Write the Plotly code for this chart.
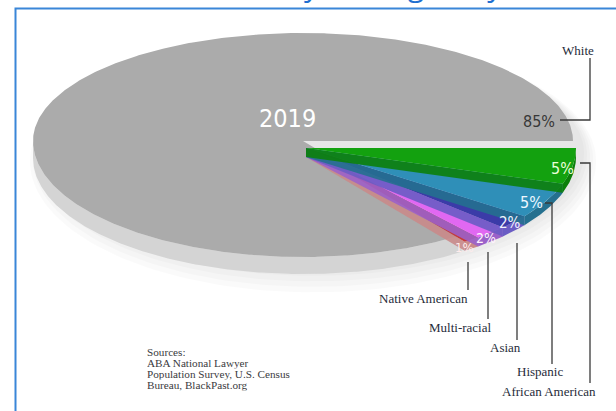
import math
import plotly.graph_objects as go

# ---------------- data ----------------
categories = ["African American", "Hispanic", "Asian", "Multi-racial", "Native American", "White"]
values = [5, 5, 2, 2, 1, 85]
pct_labels = ["5%", "5%", "2%", "2%", "1%", "85%"]
year_label = "2019"
source_lines = ["Sources:", "ABA National Lawyer", "Population Survey, U.S. Census", "Bureau, BlackPast.org"]
title_text = "Diversity among Lawyers"

# ---------------- style ----------------
top_colors = ["#13a10f", "#2f8fb8", "#3b3ba8", "#e168f2", "#c53b3b", "#ababab"]
side_colors = ["#0c7f0a", "#25708f", "#6a5cc4", "#9b62c9", "#c98a8a", "#d4d4d4"]
W, H = 616, 411
cx, cy = 303, 141
A, BT, BB = 270, 108, 116
DEPTH = 17
CDEPTH = 9
EXPLODE = (3, 7)
NARROW = "DejaVu Sans Condensed, Liberation Sans Narrow, Arial Narrow, Roboto, sans-serif"
SERIF = "Liberation Serif, DejaVu Serif, serif"


def pt(tdeg, dy=0.0, off=(0, 0)):
    t = math.radians(tdeg)
    s = math.sin(t)
    b = BT if s < 0 else BB
    return cx + A * math.cos(t) + off[0], cy + b * s + dy + off[1]


def arc(t0, t1, dy=0.0, off=(0, 0)):
    n = max(2, int(abs(t1 - t0) * 2) + 1)
    return [pt(t0 + (t1 - t0) * i / (n - 1), dy, off) for i in range(n)]


fig = go.Figure()


def poly(points, color, opacity=1.0, lw=0.0, lc=None):
    xs = [p[0] for p in points] + [points[0][0]]
    ys = [p[1] for p in points] + [points[0][1]]
    fig.add_trace(go.Scatter(x=xs, y=ys, mode="lines", fill="toself",
                             fillcolor=color, opacity=opacity,
                             line=dict(width=lw, color=lc or color),
                             hoverinfo="skip", showlegend=False))


# soft shadow under the front of the pie
for k in range(5):
    grow = 2 + k * 5
    pts = []
    for i in range(181):
        t = math.radians(i * 2)
        s = math.sin(t)
        b = (BT if s < 0 else BB) + grow * 0.7
        pts.append((cx + 10 + (A + grow * 0.6) * math.cos(t), cy + 12 + k * 2 + b * s))
    poly(pts, "rgba(0,0,0,1)", opacity=0.018)

# angular extents from the values, starting at 3 o'clock, clockwise on screen
total = sum(values)
starts, ends = [], []
acc = 0.0
for v in values:
    starts.append(acc / total * 360.0)
    acc += v
    ends.append(acc / total * 360.0)

# gray (White) slice: side wall then top
gi = len(values) - 1
g0, g1 = starts[gi], ends[gi]
wall_end = min(g1, 180.0)
wall = arc(g0, wall_end) + arc(wall_end, g0, dy=DEPTH)
poly(wall, side_colors[gi])
poly([(cx, cy)] + arc(g0, g1), top_colors[gi])

# colored slices, last first so each sits slightly above the next
for i in range(gi - 1, -1, -1):
    t0, t1 = starts[i], ends[i]
    off = EXPLODE
    tip = (cx + off[0], cy + off[1])
    poly(arc(t0, t1, off=off) + arc(t1, t0, dy=CDEPTH, off=off), side_colors[i])
    pe = pt(t1, off=off)
    poly([tip, pe, (pe[0], pe[1] + CDEPTH), (tip[0], tip[1] + CDEPTH)], side_colors[i], opacity=0.9)
    poly([tip] + arc(t0, t1, off=off), top_colors[i])

annotations = []
shapes = []

# year label
annotations.append(dict(x=287, y=118, text=year_label, showarrow=False,
                        font=dict(family=NARROW, size=25, color="#ffffff")))

# percentage labels
pct_pos = [(562, 168), (531, 202), (510, 223), (486, 238), (464, 247), (539, 121)]
pct_col = ["#eaffd8", "#eef7ff", "#f2f2ff", "#fff2ff", "#ffecec", "#383838"]
pct_size = [16, 16, 15, 14, 13, 16]
for (px, py), txt, c, s in zip(pct_pos, pct_labels, pct_col, pct_size):
    annotations.append(dict(x=px, y=py, text=txt, showarrow=False,
                            font=dict(family=NARROW, size=s, color=c)))

# category labels with leader lines
lab_pos = [(549, 391), (540, 371), (505, 347), (460, 327), (423, 298), (578, 50)]
leaders = [
    [(580, 163), (590, 163), (590, 383)],
    [(545, 203), (552, 203), (552, 364)],
    [(517, 243), (517, 340)],
    [(488, 252), (488, 319)],
    [(468, 262), (468, 290)],
    [(560, 120), (590, 120), (590, 58)],
]
for (lx, ly), name, path in zip(lab_pos, categories, leaders):
    annotations.append(dict(x=lx, y=ly, text=name, showarrow=False,
                            font=dict(family=SERIF, size=13, color="#262c3a")))
    d = "M " + " L ".join(f"{x},{y}" for x, y in path)
    shapes.append(dict(type="path", path=d, xref="x", yref="y",
                       line=dict(color="#3a3a3a", width=1.3)))

# sources block
for j, line in enumerate(source_lines):
    annotations.append(dict(x=145, y=352 + j * 11.2, text=line, showarrow=False,
                            xanchor="left", yanchor="middle", height=10.5, valign="middle",
                            font=dict(family=SERIF, size=11.2, color="#3a3a40")))

# partially visible title and frame
annotations.append(dict(x=372, y=7, text=title_text, showarrow=False,
                        xanchor="center", yanchor="bottom",
                        font=dict(family="Open Sans, sans-serif", size=30, color="#1f6fd0")))
shapes.append(dict(type="path", path="M 15.5,420 L 15.5,8.5 L 630,8.5",
                   xref="x", yref="y", line=dict(color="#3a86d8", width=2)))

fig.update_layout(
    width=W, height=H,
    margin=dict(l=0, r=0, t=0, b=0),
    paper_bgcolor="#ffffff", plot_bgcolor="#ffffff",
    xaxis=dict(range=[0, W], visible=False, fixedrange=True),
    yaxis=dict(range=[H, 0], visible=False, fixedrange=True),
    annotations=annotations, shapes=shapes,
    showlegend=False,
)

fig.write_html("out.html")
